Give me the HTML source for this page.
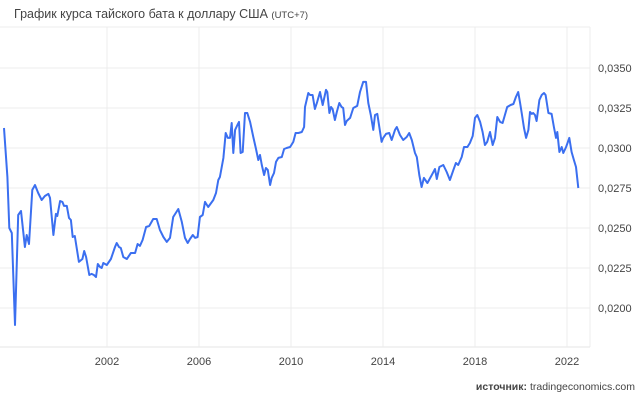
<!DOCTYPE html>
<html><head><meta charset="utf-8"><style>
body{margin:0;background:#fff;width:643px;height:400px;overflow:hidden;font-family:"Liberation Sans",sans-serif}
svg{display:block}
</style></head><body>
<svg width="643" height="400" viewBox="0 0 643 400">
<text x="14" y="18" font-size="12.5" fill="#444">График курса тайского бата к доллару США <tspan font-size="9.5">(UTC+7)</tspan></text>
<g id="grid"></g>
<g id="axes"></g>
<path id="line" fill="none" stroke="#3b6ff0" stroke-width="2" stroke-linejoin="round"/>
<text x="635" y="390" font-size="10.5" fill="#444" text-anchor="end"><tspan font-weight="bold">источник:</tspan> tradingeconomics.com</text>
</svg>
<script>
const yTicks=[0.0200,0.0225,0.0250,0.0275,0.0300,0.0325,0.0350];
const yTickLabels=["0,0200","0,0225","0,0250","0,0275","0,0300","0,0325","0,0350"];
const xTicks=[2002,2006,2010,2014,2018,2022];
const dates=[1997.52,1997.67,1997.75,1997.86,1998.0,1998.14,1998.26,1998.43,1998.51,1998.61,1998.75,1998.87,1999.01,1999.16,1999.30,1999.45,1999.52,1999.67,1999.78,1999.84,1999.96,2000.06,2000.13,2000.25,2000.35,2000.43,2000.51,2000.60,2000.78,2000.93,2001.01,2001.09,2001.23,2001.33,2001.43,2001.52,2001.60,2001.70,2001.77,2001.84,2001.99,2002.17,2002.35,2002.42,2002.52,2002.60,2002.71,2002.86,2003.04,2003.22,2003.33,2003.43,2003.55,2003.70,2003.84,2004.01,2004.16,2004.30,2004.45,2004.60,2004.74,2004.88,2005.10,2005.25,2005.39,2005.51,2005.61,2005.73,2005.83,2005.94,2006.04,2006.16,2006.26,2006.40,2006.62,2006.74,2006.84,2006.91,2007.06,2007.16,2007.25,2007.35,2007.42,2007.49,2007.57,2007.67,2007.74,2007.81,2007.90,2008.0,2008.10,2008.22,2008.36,2008.48,2008.58,2008.65,2008.73,2008.83,2008.91,2008.99,2009.09,2009.16,2009.26,2009.35,2009.45,2009.60,2009.70,2009.81,2009.96,2010.10,2010.20,2010.32,2010.47,2010.57,2010.61,2010.75,2010.83,2010.94,2011.04,2011.14,2011.26,2011.38,2011.52,2011.58,2011.67,2011.74,2011.81,2011.91,2011.99,2012.10,2012.20,2012.27,2012.35,2012.42,2012.57,2012.71,2012.88,2013.0,2013.14,2013.26,2013.36,2013.47,2013.58,2013.65,2013.75,2013.94,2014.01,2014.13,2014.27,2014.38,2014.52,2014.60,2014.74,2014.88,2015.03,2015.14,2015.25,2015.39,2015.47,2015.58,2015.68,2015.78,2015.93,2016.12,2016.26,2016.34,2016.45,2016.62,2016.77,2016.91,2017.06,2017.17,2017.27,2017.42,2017.52,2017.67,2017.78,2017.90,2018.0,2018.10,2018.22,2018.33,2018.43,2018.53,2018.65,2018.77,2018.87,2018.97,2019.09,2019.20,2019.40,2019.55,2019.67,2019.78,2019.88,2019.96,2020.03,2020.13,2020.22,2020.32,2020.39,2020.47,2020.53,2020.61,2020.68,2020.80,2020.90,2021.0,2021.07,2021.19,2021.33,2021.43,2021.52,2021.58,2021.67,2021.77,2021.84,2021.96,2022.10,2022.20,2022.30,2022.39,2022.49];
const rates=[0.03125,0.02819,0.0250,0.02469,0.01894,0.02581,0.02606,0.02381,0.02456,0.0240,0.02738,0.02769,0.02719,0.02675,0.0270,0.02713,0.02688,0.02456,0.02588,0.02575,0.02669,0.02663,0.02638,0.02638,0.02563,0.0255,0.02444,0.0245,0.02288,0.02306,0.02356,0.02319,0.02206,0.02213,0.02206,0.02194,0.02275,0.02256,0.0225,0.02281,0.02269,0.02306,0.02381,0.02406,0.02381,0.02375,0.02319,0.02306,0.02344,0.02344,0.0240,0.02388,0.02425,0.02506,0.02513,0.02556,0.02556,0.02488,0.02444,0.02413,0.02438,0.02569,0.02619,0.02538,0.02438,0.02406,0.02431,0.02456,0.02438,0.02444,0.02569,0.02581,0.02663,0.02631,0.02675,0.02719,0.0280,0.02819,0.02938,0.03094,0.03063,0.03063,0.03156,0.02969,0.03113,0.03144,0.03163,0.02969,0.02975,0.03219,0.03219,0.03163,0.03069,0.02994,0.02925,0.02956,0.02894,0.02831,0.02875,0.02863,0.02769,0.02813,0.02844,0.02913,0.02938,0.02944,0.02994,0.0300,0.03006,0.03038,0.03094,0.03094,0.0310,0.03131,0.03256,0.03344,0.03331,0.03331,0.03244,0.03288,0.0335,0.03269,0.03363,0.0335,0.03219,0.03256,0.03244,0.03175,0.03225,0.03281,0.03256,0.0325,0.03144,0.03169,0.03188,0.0325,0.03263,0.0335,0.03413,0.03413,0.03281,0.03206,0.03113,0.03206,0.03213,0.03038,0.03063,0.03088,0.03094,0.0305,0.03113,0.03131,0.03081,0.0305,0.03069,0.03094,0.0305,0.02969,0.02944,0.02831,0.02756,0.02813,0.02781,0.02831,0.02869,0.02806,0.02881,0.02894,0.0285,0.0280,0.02863,0.02906,0.02894,0.02944,0.03006,0.03006,0.03031,0.03075,0.03188,0.03206,0.03163,0.031,0.03019,0.03038,0.031,0.03019,0.03063,0.03194,0.03163,0.03156,0.03256,0.03269,0.03275,0.03319,0.0335,0.03281,0.03219,0.03125,0.03063,0.03113,0.03225,0.03213,0.03219,0.03206,0.03169,0.0330,0.03331,0.03344,0.03331,0.03219,0.03213,0.03131,0.03063,0.031,0.02975,0.03006,0.02969,0.03006,0.03063,0.02975,0.02925,0.02881,0.0275];
const NS="http://www.w3.org/2000/svg";
const X=yr=>107+(yr-2002)*23;
const Y=v=>308-(v-0.02)/0.0025*40;
const grid=document.getElementById('grid'),axes=document.getElementById('axes');
function mk(tag,attrs,parent){const e=document.createElementNS(NS,tag);for(const k in attrs)e.setAttribute(k,attrs[k]);parent.appendChild(e);return e;}
let e=mk('line',{x1:0,x2:590,y1:27,y2:27,stroke:'#eee'},grid);


e=mk('line',{x1:590,x2:590,y1:27,y2:347,stroke:'#eee'},grid);


e=mk('line',{x1:0,x2:590,y1:347,y2:347,stroke:'#e6e6e6'},grid);


yTicks.forEach((t,i)=>{
 const g=mk('line',{x1:0,x2:590,y1:Y(t),y2:Y(t),stroke:'#ececec'},grid);
 
 
 const l=mk('text',{x:598,y:Y(t)+4,'font-size':11,fill:'#444'},axes);
 l.textContent=yTickLabels[i];
 
 
});
xTicks.forEach(t=>{
 const g=mk('line',{x1:X(t),x2:X(t),y1:27,y2:347,stroke:'#ececec'},grid);
 
 
 const l=mk('text',{x:X(t),y:365,'font-size':11,fill:'#444','text-anchor':'middle'},axes);
 l.textContent=String(t);
 
 
});
document.getElementById('line').setAttribute('d',dates.map((d,i)=>(i?'L':'M')+X(d).toFixed(1)+','+Y(rates[i]).toFixed(1)).join(''));
</script>
</body></html>
